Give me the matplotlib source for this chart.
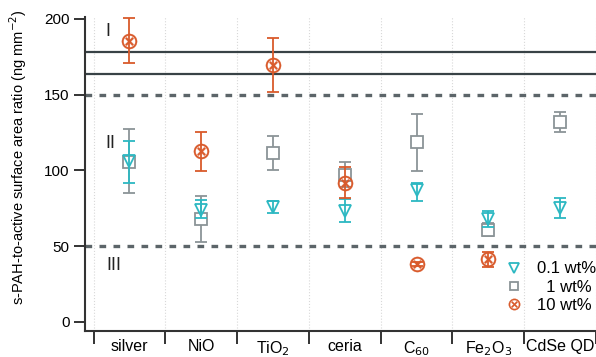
import matplotlib
matplotlib.use('Agg')
import matplotlib.pyplot as plt
import numpy as np

plt.rcParams['font.family'] = ['Liberation Sans', 'DejaVu Sans']

categories = ['silver', 'NiO', 'TiO$_2$', 'ceria', 'C$_{60}$', 'Fe$_2$O$_3$', 'CdSe QD']

# 0.1 wt%
low_val = [106, 74, 76, 73, 87, 68, 75.5]
low_lo = [92, 68.8, 72.2, 65.8, 80, 62.5, 68.4]
low_hi = [119.7, 80.5, 79.6, 81, 91.5, 73.3, 81.6]

# 1 wt%
mid_val = [105.8, 68, 111.3, 97, 118.6, 60.7, 132.2]
mid_lo = [85.3, 53, 100.3, 89, 99.7, 56.8, 125.2]
mid_hi = [127.4, 83.4, 122.8, 105.8, 137.3, 65.5, 138.8]

# 10 wt%
high_val = [185.5, 112.9, 169.6, 92, 38.1, 41.4, np.nan]
high_lo = [170.8, 99.9, 151.6, 81.5, 36.8, 36.1, np.nan]
high_hi = [200.4, 125.6, 187.3, 102.5, 39.4, 46.4, np.nan]

region_lines = [178.3, 163.5]
region_bounds = [150, 50]

cyan = '#2cb8c2'
gray = '#8b9497'
orange = '#d95a2b'

x = np.arange(len(categories))

fig = plt.figure(figsize=(5.96, 3.57), dpi=100)
ax = fig.add_axes([0.1426, 0.0728, 0.8574, 0.8795])

for y in region_lines:
    ax.axhline(y, color='#384246', lw=1.6, zorder=1)
for y in region_bounds:
    ax.axhline(y, color='#5c6569', lw=2.4, ls=(0, (2, 2.2)), zorder=1)

bounds = np.arange(len(categories) + 1) - 0.5
for b in bounds:
    ax.axvline(b, color='#d8d8d8', lw=0.8, ls=':', zorder=0)


def err(v, lo, hi):
    v = np.asarray(v, float)
    return [v - np.asarray(lo, float), np.asarray(hi, float) - v]


ax.errorbar(x, mid_val, yerr=err(mid_val, mid_lo, mid_hi), fmt='s', ms=8.5,
            mfc='white', mec=gray, mew=1.3, ecolor=gray, elinewidth=1.3,
            capsize=4, capthick=1.3, color=gray, label='\u20071 wt%', zorder=3)
ax.errorbar(x, low_val, yerr=err(low_val, low_lo, low_hi), fmt='v', ms=9,
            mfc='none', mec=cyan, mew=1.3, ecolor=cyan, elinewidth=1.3,
            capsize=4, capthick=1.3, color=cyan, label='0.1 wt%', zorder=4)
ax.errorbar(x, high_val, yerr=err(high_val, high_lo, high_hi), fmt='none',
            ecolor=orange, elinewidth=1.3, capsize=4, capthick=1.3, zorder=5)
ax.plot(x, high_val, ls='none', marker=r'$\otimes$', ms=11, color=orange,
        mew=0.2, label='10 wt%', zorder=6)

ax.text(-0.34, 192, 'I', fontsize=13, ha='left', va='center', color='#222222')
ax.text(-0.34, 118, 'II', fontsize=13, ha='left', va='center', color='#222222')
ax.text(-0.32, 37, 'III', fontsize=13, ha='left', va='center', color='#222222')

ax.set_xlim(-0.62, 6.5)
ax.set_ylim(-6, 201.3)
ax.set_yticks([0, 50, 100, 150, 200])
ax.tick_params(axis='y', direction='out', length=8, width=1.4, labelsize=11,
               color='#333333', pad=3)
ax.set_xticks(x)
ax.set_xticklabels(categories, fontsize=11.5)
ax.set_xticks(bounds, minor=True)
ax.tick_params(axis='x', which='major', length=0, pad=6)
ax.tick_params(axis='x', which='minor', direction='out', length=9, width=1.4,
               color='#333333')

for s in ['top', 'right']:
    ax.spines[s].set_visible(False)
for s in ['left', 'bottom']:
    ax.spines[s].set_linewidth(1.5)
    ax.spines[s].set_color('#333333')

ax.set_ylabel('s-PAH-to-active surface area ratio (ng mm$^{-2}$)', fontsize=10.5)
ax.yaxis.set_label_coords(-0.11, 0.554)

h, l = ax.get_legend_handles_labels()
hd = dict(zip(l, h))
labs = ['0.1 wt%', '\u20071 wt%', '10 wt%']
hs = [hd[k][0] if isinstance(hd[k], tuple) else hd[k] for k in labs]
leg = ax.legend(hs, labs, loc='lower right',
                bbox_to_anchor=(1.02, 0.025), frameon=False, fontsize=12,
                handletextpad=0.8, labelspacing=0.2, handlelength=1.2,
                markerscale=0.75, borderaxespad=0.2)

fig.savefig('out.png', dpi=100)
